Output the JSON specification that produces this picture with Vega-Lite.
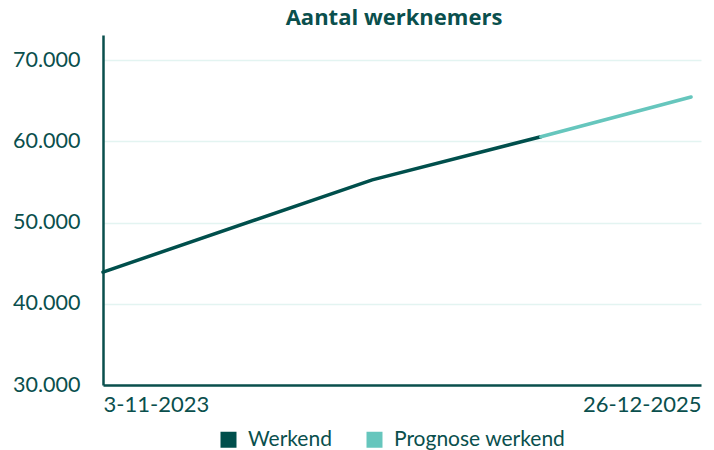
{
  "$schema": "https://vega.github.io/schema/vega-lite/v6.json",
  "width": 598,
  "height": 350,
  "autosize": {"type": "none"},
  "padding": {"left": 103, "top": 35, "right": 13, "bottom": 65},
  "background": "white",
  "title": {
    "text": "Aantal werknemers",
    "fontSize": 22,
    "font": "Open Sans",
    "fontWeight": "bold",
    "color": "#0a4f4d",
    "anchor": "middle",
    "dx": -8,
    "offset": 5
  },
  "config": {
    "view": {"stroke": null},
    "font": "Lato"
  },
  "data": {
    "values": [
      {"datum": "2023-11-03", "waarde": 43900, "reeks": "Werkend"},
      {"datum": "2024-10-21", "waarde": 55250, "reeks": "Werkend"},
      {"datum": "2025-05-30", "waarde": 60550, "reeks": "Werkend"},
      {"datum": "2025-05-30", "waarde": 60550, "reeks": "Prognose werkend"},
      {"datum": "2025-12-13", "waarde": 65450, "reeks": "Prognose werkend"}
    ]
  },
  "mark": {"type": "line", "strokeWidth": 3.5, "strokeCap": "round"},
  "encoding": {
    "x": {
      "field": "datum",
      "type": "temporal",
      "scale": {
        "type": "utc",
        "domain": [
          {"year": 2023, "month": 11, "date": 3, "utc": true},
          {"year": 2025, "month": 12, "date": 26, "utc": true}
        ]
      },
      "axis": {
        "title": null,
        "values": [
          {"year": 2023, "month": 11, "date": 3, "utc": true},
          {"year": 2025, "month": 12, "date": 26, "utc": true}
        ],
        "labelExpr": "utcFormat(datum.value, '%-d-%m-%Y')",
        "labelFlush": true,
        "ticks": false,
        "grid": false,
        "domainColor": "#0a4f4d",
        "domainWidth": 2.5,
        "labelColor": "#0a4f4d",
        "labelFontSize": 22,
        "labelPadding": 9
      }
    },
    "y": {
      "field": "waarde",
      "type": "quantitative",
      "scale": {"domain": [30000, 73077], "nice": false},
      "axis": {
        "title": null,
        "values": [30000, 40000, 50000, 60000, 70000],
        "format": ",.0f",
        "labelExpr": "replace(datum.label, ',', '.')",
        "ticks": false,
        "grid": true,
        "gridColor": "#e3f4f1",
        "gridWidth": 1.5,
        "domainColor": "#0a4f4d",
        "domainWidth": 2.5,
        "labelColor": "#0a4f4d",
        "labelFontSize": 21.5,
        "labelPadding": 23
      }
    },
    "color": {
      "field": "reeks",
      "type": "nominal",
      "scale": {"domain": ["Werkend", "Prognose werkend"], "range": ["#004f4c", "#66c6bd"]},
      "legend": {
        "title": null,
        "orient": "none",
        "direction": "horizontal",
        "legendX": 115,
        "legendY": 394,
        "symbolType": "square",
        "symbolSize": 256,
        "symbolStrokeWidth": 0,
        "labelFontSize": 21,
        "labelLimit": 400,
        "labelColor": "#0a4f4d",
        "labelOffset": 9,
        "columnPadding": 32,
        "encode": {
          "symbols": {
            "update": {
              "fill": {"scale": "color", "field": "value"},
              "fillOpacity": {"value": 1},
              "opacity": {"value": 1}
            }
          }
        }
      }
    }
  }
}
